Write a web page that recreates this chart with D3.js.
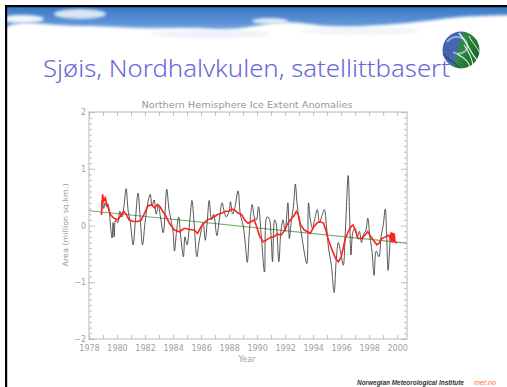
<!DOCTYPE html>
<html><head><meta charset="utf-8">
<script src="https://cdn.jsdelivr.net/npm/d3@7"></script>
<style>
html,body{margin:0;padding:0;background:#fff;}
svg{display:block;}
</style></head>
<body>
<svg id="c" width="507" height="387"></svg>
<script>
// ---------- DATA ----------
const slideTitle = "Sjøis, Nordhalvkulen, satellittbasert";
const chartTitle = "Northern Hemisphere Ice Extent Anomalies";
const yAxisTitle = "Area (million sq.km.)";
const xAxisTitle = "Year";
const footerText = "Norwegian Meteorological Institute";
const footerLink = "met.no";

const xYears = d3.range(1978, 2001);          // tick years
const yMajor = [-2, -1, 0, 1, 2];              // labelled ticks

// monthly anomaly (black), [year, million km2]
const anomaly = [
 [1978.87,0.19],[1978.95,0.45],[1979.05,0.30],[1979.15,0.40],[1979.25,0.33],[1979.35,0.38],
 [1979.45,0.25],[1979.55,-0.05],[1979.65,-0.22],[1979.72,0.05],[1979.80,-0.20],[1979.90,0.10],
 [1980.05,0.05],[1980.20,0.25],[1980.35,0.15],[1980.50,0.35],[1980.65,0.65],[1980.80,0.25],
 [1980.95,0.05],[1981.15,-0.34],[1981.30,0.05],[1981.50,0.57],[1981.65,0.15],[1981.82,-0.34],
 [1982.00,0.05],[1982.20,0.40],[1982.37,0.55],[1982.50,0.35],[1982.65,0.45],[1982.80,0.20],
 [1982.95,0.35],[1983.10,0.15],[1983.30,-0.13],[1983.55,0.64],[1983.70,0.30],[1983.85,0.10],
 [1984.00,-0.10],[1984.10,-0.45],[1984.25,-0.10],[1984.40,0.15],[1984.55,-0.20],[1984.74,-0.55],
 [1984.85,-0.20],[1985.00,-0.34],[1985.20,0.10],[1985.35,0.44],[1985.50,0.05],[1985.70,-0.55],
 [1985.85,-0.30],[1986.00,-0.10],[1986.15,0.05],[1986.30,-0.26],[1986.45,0.10],[1986.58,0.44],
 [1986.75,0.10],[1986.90,0.20],[1987.13,-0.18],[1987.30,0.10],[1987.50,0.40],[1987.65,0.25],
 [1987.80,0.15],[1988.00,0.25],[1988.10,0.42],[1988.25,0.20],[1988.40,0.30],[1988.64,0.61],
 [1988.80,0.20],[1989.00,0.00],[1989.15,-0.30],[1989.30,-0.65],[1989.45,-0.10],[1989.65,0.37],
 [1989.80,0.15],[1989.95,0.10],[1990.10,0.33],[1990.30,-0.20],[1990.53,-0.82],[1990.70,0.15],
 [1990.85,0.13],[1991.00,-0.20],[1991.10,-0.64],[1991.25,0.10],[1991.35,0.05],[1991.55,-0.64],
 [1991.70,-0.10],[1991.85,0.10],[1992.00,-0.10],[1992.20,0.40],[1992.30,-0.23],[1992.45,0.10],
 [1992.60,0.35],[1992.73,0.73],[1992.85,0.40],[1993.00,0.10],[1993.20,-0.20],[1993.35,-0.45],
 [1993.55,-0.67],[1993.67,0.40],[1993.80,0.10],[1993.95,-0.05],[1994.10,0.10],[1994.30,0.28],
 [1994.45,0.05],[1994.60,0.15],[1994.80,0.28],[1994.95,0.00],[1995.10,-0.40],[1995.30,-0.70],
 [1995.50,-1.18],[1995.65,-0.60],[1995.80,-0.30],[1995.95,-0.45],[1996.15,-0.70],[1996.30,-0.10],
 [1996.50,0.88],[1996.60,0.20],[1996.70,-0.52],[1996.85,-0.10],[1997.00,-0.05],[1997.15,-0.20],
 [1997.30,-0.10],[1997.45,-0.30],[1997.60,-0.15],[1997.75,-0.10],[1997.90,0.13],[1998.05,-0.20],
 [1998.20,-0.45],[1998.35,-0.88],[1998.50,-0.45],[1998.70,-0.55],[1998.85,-0.20],[1999.00,0.00],
 [1999.15,0.29],[1999.25,-0.20],[1999.35,-0.79],[1999.50,-0.20]
];

// running mean (red)
const runningMean = [
 [1978.90,0.19],[1978.97,0.55],[1979.06,0.43],[1979.16,0.49],[1979.25,0.40],[1979.37,0.31],
 [1979.54,0.19],[1979.77,0.13],[1980.08,0.10],[1980.30,0.19],[1980.48,0.25],[1980.67,0.19],
 [1980.86,0.10],[1981.14,0.07],[1981.50,0.07],[1981.74,0.10],[1981.97,0.22],[1982.20,0.34],
 [1982.45,0.37],[1982.68,0.31],[1982.90,0.37],[1983.07,0.33],[1983.26,0.25],[1983.50,0.16],
 [1983.74,0.04],[1984.10,-0.08],[1984.45,-0.11],[1984.80,-0.05],[1985.16,-0.07],[1985.50,-0.08],
 [1985.75,-0.14],[1986.00,-0.02],[1986.20,0.04],[1986.45,0.10],[1986.80,0.13],[1987.15,0.19],
 [1987.50,0.22],[1987.75,0.25],[1988.00,0.25],[1988.20,0.29],[1988.40,0.27],[1988.65,0.22],
 [1988.90,0.19],[1989.10,0.10],[1989.35,0.04],[1989.60,0.07],[1989.80,0.10],[1990.00,-0.05],
 [1990.20,-0.20],[1990.45,-0.29],[1990.70,-0.25],[1990.95,-0.21],[1991.20,-0.20],[1991.45,-0.15],
 [1991.70,-0.17],[1991.90,-0.11],[1992.13,0.01],[1992.37,0.10],[1992.60,0.16],[1992.80,0.25],
 [1992.94,0.19],[1993.10,0.01],[1993.37,-0.08],[1993.60,-0.11],[1993.80,-0.14],[1994.05,-0.02],
 [1994.30,0.05],[1994.50,0.07],[1994.75,0.04],[1994.90,-0.08],[1995.10,-0.26],[1995.35,-0.43],
 [1995.60,-0.58],[1995.80,-0.64],[1996.00,-0.56],[1996.17,-0.37],[1996.30,-0.23],[1996.50,-0.11],
 [1996.70,-0.02],[1996.85,0.01],[1997.00,-0.08],[1997.20,-0.23],[1997.45,-0.23],[1997.70,-0.17],
 [1997.90,-0.11],[1998.05,-0.17],[1998.30,-0.26],[1998.55,-0.34],[1998.70,-0.31],[1998.90,-0.23],
 [1999.15,-0.20],[1999.40,-0.17],[1999.50,-0.23],[1999.58,-0.12],[1999.63,-0.30],[1999.68,-0.13],
 [1999.73,-0.30],[1999.78,-0.14],[1999.85,-0.29],[2000.00,-0.31]
];

// linear trend (green)
const trend = [[1978.0,0.26],[2000.7,-0.31]];

// ---------- DRAW ----------
const svg = d3.select("#c");
const defs = svg.append("defs");

// slide decoration: sky banner
const sky = defs.append("linearGradient").attr("id","sky").attr("x1",0).attr("y1",0).attr("x2",0).attr("y2",1);
sky.append("stop").attr("offset","0%").attr("stop-color","#3a78c4");
sky.append("stop").attr("offset","55%").attr("stop-color","#5f95d8");
sky.append("stop").attr("offset","100%").attr("stop-color","#9cc0ea");
const blur = defs.append("filter").attr("id","blur").attr("x","-20%").attr("y","-50%").attr("width","140%").attr("height","200%");
blur.append("feGaussianBlur").attr("stdDeviation",1.8);

svg.append("rect").attr("x",0).attr("y",0).attr("width",507).attr("height",387).attr("fill","#fff");
svg.append("rect").attr("x",7).attr("y",7).attr("width",500).attr("height",30).attr("fill","url(#sky)");

const cloudEdge = [[0,24],[30,22],[60,26],[100,26],[150,29],[190,27],[230,31],[260,25],[285,21],[310,24],[340,28],[380,25],[410,23],[440,19],[470,16],[507,15]];
const edgeLine = d3.line().curve(d3.curveBasis);
const pts = [[-10,60]].concat(cloudEdge).concat([[520,15],[520,60]]);
svg.append("path").attr("d", edgeLine(pts)+"Z").attr("fill","#fff").attr("filter","url(#blur)");
svg.append("ellipse").attr("cx",80).attr("cy",14).attr("rx",26).attr("ry",5).attr("fill","#e9f0f9").attr("opacity",0.9).attr("filter","url(#blur)");
svg.append("ellipse").attr("cx",22).attr("cy",19).attr("rx",22).attr("ry",4).attr("fill","#f2f6fb").attr("filter","url(#blur)");
svg.append("ellipse").attr("cx",270).attr("cy",21).attr("rx",18).attr("ry",3).attr("fill","#f2f6fb").attr("opacity",0.9).attr("filter","url(#blur)");
svg.append("ellipse").attr("cx",210).attr("cy",34).attr("rx",60).attr("ry",4).attr("fill","#e7edf5").attr("opacity",0.7).attr("filter","url(#blur)");
svg.append("ellipse").attr("cx",360).attr("cy",31).attr("rx",60).attr("ry",4).attr("fill","#e9eef6").attr("opacity",0.6).attr("filter","url(#blur)");
svg.append("rect").attr("x",0).attr("y",0).attr("width",507).attr("height",5.5).attr("fill","#fff");

// black frame lines
svg.append("rect").attr("x",5).attr("y",5).attr("width",502).attr("height",2.2).attr("fill","#000");
svg.append("rect").attr("x",5).attr("y",5).attr("width",2.2).attr("height",382).attr("fill","#000");

// logo globe
const lg = defs.append("linearGradient").attr("id","globe").attr("x1",0).attr("y1",0).attr("x2",1).attr("y2",0.3);
lg.append("stop").attr("offset","0%").attr("stop-color","#3f5fb0");
lg.append("stop").attr("offset","45%").attr("stop-color","#4a66b0");
lg.append("stop").attr("offset","58%").attr("stop-color","#2f8a3e");
lg.append("stop").attr("offset","100%").attr("stop-color","#1d6e2c");
const logo = svg.append("g").attr("transform","translate(461,50)");
logo.append("circle").attr("r",18.5).attr("fill","url(#globe)");
logo.append("path").attr("d","M-14,-8 C-8,-16 4,-14 6,-6 C8,2 -2,6 -8,2").attr("fill","none").attr("stroke","#9fc4e8").attr("stroke-width",2).attr("opacity",0.8);
logo.append("path").attr("d","M-2,-17 C6,-8 10,4 16,10").attr("fill","none").attr("stroke","#e8f4e8").attr("stroke-width",1.3);
logo.append("path").attr("d","M3,-5 C8,2 11,8 12,15").attr("fill","none").attr("stroke","#e8f4e8").attr("stroke-width",1.1);
logo.append("path").attr("d","M-4,4 C4,8 10,14 8,18").attr("fill","none").attr("stroke","#e8f4e8").attr("stroke-width",1.1);
logo.append("path").attr("d","M8,-14 C12,-6 17,-2 18,2").attr("fill","none").attr("stroke","#e8f4e8").attr("stroke-width",1);
logo.append("path").attr("d","M-18,4 C-12,10 -6,12 -2,18").attr("fill","none").attr("stroke","#2b3f80").attr("stroke-width",1.5).attr("opacity",0.7);

// slide title
svg.append("text").attr("x",43).attr("y",77).text(slideTitle)
  .attr("font-family","'Noto Sans', 'DejaVu Sans', sans-serif").attr("font-size",24).attr("font-weight",300)
  .attr("fill","#6868d6").attr("textLength",407).attr("lengthAdjust","spacingAndGlyphs");

// chart
const x = d3.scaleLinear().domain([1978, 2000.7]).range([89, 407]);
const y = d3.scaleLinear().domain([-2, 2]).range([339, 112]);
const axisColor = "#b8b8b8", labelColor = "#a0a0a0";
const font = "'DejaVu Sans', sans-serif";

svg.append("text").attr("x",247).attr("y",108).attr("text-anchor","middle").text(chartTitle)
  .attr("font-family",font).attr("font-size",8.5).attr("fill","#979797")
  .attr("textLength",211).attr("lengthAdjust","spacingAndGlyphs");

const yMinor = d3.range(-20, 21).map(d => d/10).filter(d => !yMajor.includes(d));

function styleAxis(g){
  g.selectAll("path.domain").remove();
  g.selectAll("line").attr("stroke",axisColor).attr("stroke-width",0.9);
  g.selectAll("text").attr("fill",labelColor).attr("font-family",font).attr("font-size",8);
}
svg.append("g").attr("transform",`translate(0,${y(-2)})`)
  .call(d3.axisBottom(x).tickValues(xYears).tickSize(-4).tickPadding(6).tickFormat(d => d%2===0 ? d : ""))
  .call(styleAxis);
svg.append("g").attr("transform",`translate(0,${y(2)})`)
  .call(d3.axisTop(x).tickValues(xYears).tickSize(-4).tickFormat(""))
  .call(styleAxis);
svg.append("g").attr("transform",`translate(${x.range()[0]},0)`)
  .call(d3.axisLeft(y).tickValues(yMajor).tickSize(-6).tickPadding(3).tickFormat(d3.format("d")))
  .call(styleAxis);
svg.append("g").attr("transform",`translate(${x.range()[0]},0)`)
  .call(d3.axisLeft(y).tickValues(yMinor).tickSize(-3).tickFormat(""))
  .call(styleAxis);
svg.append("g").attr("transform",`translate(${x.range()[1]},0)`)
  .call(d3.axisRight(y).tickValues(yMajor).tickSize(-6).tickFormat(""))
  .call(styleAxis);
svg.append("g").attr("transform",`translate(${x.range()[1]},0)`)
  .call(d3.axisRight(y).tickValues(yMinor).tickSize(-3).tickFormat(""))
  .call(styleAxis);
svg.append("rect").attr("x",x.range()[0]).attr("y",y(2)).attr("width",x.range()[1]-x.range()[0]).attr("height",y(-2)-y(2))
  .attr("fill","none").attr("stroke",axisColor).attr("stroke-width",1);

const line = d3.line().x(d => x(d[0])).y(d => y(d[1]));
svg.append("path").datum(trend).attr("d",line).attr("fill","none").attr("stroke","#6fb06f").attr("stroke-width",1.2);
svg.append("path").datum(anomaly).attr("d",line.curve(d3.curveCatmullRom.alpha(0.5))).attr("fill","none").attr("stroke","#3a3a3a").attr("stroke-width",1).attr("opacity",0.85);
svg.append("path").datum(runningMean).attr("d",d3.line().x(d => x(d[0])).y(d => y(d[1]))).attr("fill","none").attr("stroke","#ff2020").attr("stroke-width",1.6);

svg.append("text").attr("transform",`translate(68,225) rotate(-90)`).attr("text-anchor","middle")
  .text(yAxisTitle).attr("font-family",font).attr("font-size",7.5).attr("fill",labelColor)
  .attr("textLength",83).attr("lengthAdjust","spacingAndGlyphs");
svg.append("text").attr("x",247).attr("y",362).attr("text-anchor","middle").text(xAxisTitle)
  .attr("font-family",font).attr("font-size",8).attr("fill",labelColor);

// footer: size fonts so natural widths fit the reference spans
function fitText(sel, width, base){
  sel.attr("font-size", base);
  const w = sel.node().getComputedTextLength();
  sel.attr("font-size", (base * width / w).toFixed(2));
}
const f1 = svg.append("text").attr("x",357).attr("y",385).text(footerText)
  .attr("font-family","'Liberation Sans', Arial, sans-serif").attr("font-style","italic").attr("font-weight","bold")
  .attr("fill","#333");
fitText(f1, 107, 8);
const f2 = svg.append("text").attr("x",474).attr("y",385).text(footerLink)
  .attr("font-family","'Liberation Sans', Arial, sans-serif").attr("font-style","italic")
  .attr("fill","#ff6a3a");
fitText(f2, 22, 8);
</script>
</body></html>
